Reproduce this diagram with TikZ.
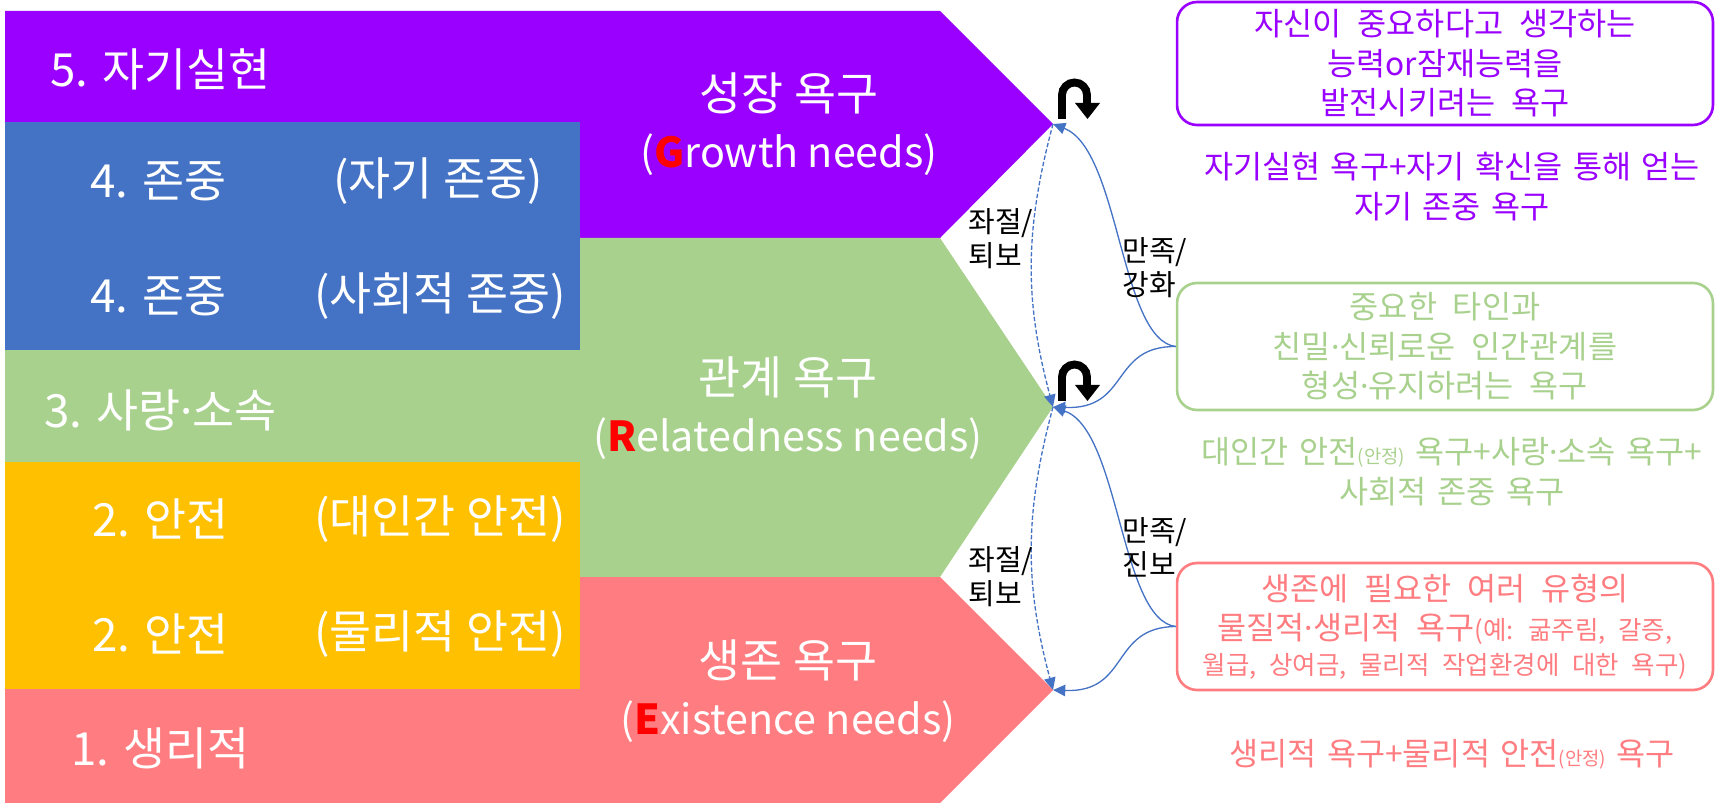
\documentclass[tikz,border=0pt]{standalone}
\usepackage{fontspec}
\setmainfont{Noto Sans CJK KR}
\newfontfamily\dotfont{Noto Sans}
\newcommand\ldot{{\dotfont\char"00B7}}
\newcommand\boxspace{\spaceskip=0.5em plus 0.1em\relax}
\newcommand\notespace{\spaceskip=0.33em plus 0.1em\relax}
\usetikzlibrary{arrows.meta}

\definecolor{growth}{HTML}{9900FF}
\definecolor{esteem}{HTML}{4472C4}
\definecolor{related}{HTML}{A9D18E}
\definecolor{safety}{HTML}{FFC000}
\definecolor{exist}{HTML}{FF7C80}
\definecolor{link}{HTML}{4472C4}

\tikzset{
  band/.style={text=white,inner sep=0pt,font=\fontsize{26}{30}\selectfont},
  need/.style={text=white,inner sep=0pt,align=center,font=\fontsize{23.5}{32.3}\selectfont},
  descbox/.style={draw=#1,text=#1,rectangle,rounded corners=0.4cm,line width=1.5pt,align=center,inner sep=0pt,minimum width=10.72cm,font=\fontsize{18}{22.4}\selectfont\boxspace},
  note/.style={text=#1,align=center,inner sep=0pt,font=\fontsize{18}{22.7}\selectfont\notespace},
  cue/.style={align=left,inner sep=0pt,anchor=west,font=\fontsize{16.5}{19.3}\selectfont},
  satisfy/.style={draw=link,line width=0.75pt,-{Triangle[length=7pt,width=6.5pt]}},
  regress/.style={satisfy,dash pattern=on 2.5pt off 1.2pt},
  uturnarrow/.style={line width=4.5pt}
}

\begin{document}
\begin{tikzpicture}[x=0.02cm,y=-0.02cm]
\useasboundingbox (0,0) rectangle (1717,803);

% need arrows
\fill[growth] (5,11) -- (940,11) -- (1053,124) -- (940,238) -- (5,238) -- cycle;
\fill[related] (5,238) -- (940,238) -- (1053,407) -- (940,577) -- (5,577) -- cycle;
\fill[exist] (5,577) -- (940,577) -- (1053,690) -- (940,803) -- (5,803) -- cycle;
\fill[esteem] (5,122) rectangle (580,350);
\fill[safety] (5,462) rectangle (580,689);

\coordinate (gtip) at (1053,124);
\coordinate (rtip) at (1053,407);
\coordinate (etip) at (1053,690);

% Maslow levels
\node[band,anchor=west] (l5) at (50,69) {5. 자기실현};
\node[band,anchor=west] (l4a) at (90,181) {4. 존중};
\node[band,anchor=east] (l4ax) at (543,181) {(자기 존중)};
\node[band,anchor=west] (l4b) at (90,296) {4. 존중};
\node[band,anchor=east] (l4bx) at (566,296) {(사회적 존중)};
\node[band,anchor=west] (l3) at (44,410) {3. 사랑\ldot 소속};
\node[band,anchor=west] (l2a) at (92,519) {2. 안전};
\node[band,anchor=east] (l2ax) at (566,519) {(대인간 안전)};
\node[band,anchor=west] (l2b) at (92,634) {2. 안전};
\node[band,anchor=east] (l2bx) at (566,634) {(물리적 안전)};
\node[band,anchor=west] (l1) at (71,748) {1. 생리적};

% ERG
\node[need] (growth) at (789,124) {{\fontsize{26}{30}\selectfont 성장 욕구}\\(\textbf{\color{red}G}rowth needs)};
\node[need] (relate) at (788,408) {{\fontsize{26}{30}\selectfont 관계 욕구}\\(\textbf{\color{red}R}elatedness needs)};
\node[need] (exists) at (788,691) {{\fontsize{26}{30}\selectfont 생존 욕구}\\(\textbf{\color{red}E}xistence needs)};

% descriptions
\node[descbox=growth,minimum height=2.46cm] (growthbox) at (1445,63.5) {자신이 중요하다고 생각하는\\능력or잠재능력을\\발전시키려는 욕구};
\node[note=growth] (growthnote) at (1452,187) {자기실현 욕구+자기 확신을 통해 얻는\\자기 존중 욕구};
\node[descbox=related,minimum height=2.54cm] (relbox) at (1445,346.5) {중요한 타인과\\친밀\ldot 신뢰로운 인간관계를\\형성\ldot 유지하려는 욕구};
\node[note=related] (relnote) at (1452,472) {대인간 안전{\fontsize{10.7}{12}\selectfont(안정)} 욕구+사랑\ldot 소속 욕구+\\사회적 존중 욕구};
\node[descbox=exist,minimum height=2.54cm] (existbox) at (1445,626.5) {생존에 필요한 여러 유형의\\물질적\ldot 생리적 욕구{\fontsize{14.5}{18}\selectfont\boxspace(예: 굶주림, 갈증,}\\[-0.1cm]{\fontsize{14.5}{18}\selectfont\boxspace 월급, 상여금, 물리적 작업환경에 대한 욕구)}};
\node[note=exist] (existnote) at (1452,754) {생리적 욕구+물리적 안전{\fontsize{10.7}{12}\selectfont(안정)} 욕구};

% satisfaction / frustration
\draw[satisfy] (relbox.west) .. controls (1120,340) and (1120,150) .. (gtip);
\draw[satisfy] (relbox.west) .. controls (1110,346) and (1130,410) .. (rtip);
\draw[satisfy] (existbox.west) .. controls (1120,620) and (1120,430) .. (rtip);
\draw[satisfy] (existbox.west) .. controls (1110,627) and (1130,693) .. (etip);
\draw[regress] (gtip) to[out=-105,in=105] (rtip);
\draw[regress] (rtip) to[out=-105,in=105] (etip);

\node[cue] (down1) at (968,239) {좌절/\\퇴보};
\node[cue] (down2) at (968,577) {좌절/\\퇴보};
\node[cue] (up1) at (1122,268) {만족/\\강화};
\node[cue] (up2) at (1122,547) {만족/\\진보};

% u-turns
\draw[uturnarrow] (1062,119) -- (1062,95) arc[start angle=180,end angle=0,radius=0.25cm] -- (1087,104);
\fill (1075,103) -- (1100,103) -- (1087.5,119) -- cycle;
\draw[uturnarrow] (1062,401) -- (1062,377) arc[start angle=180,end angle=0,radius=0.25cm] -- (1087,386);
\fill (1075,385) -- (1100,385) -- (1087.5,401) -- cycle;
\end{tikzpicture}
\end{document}
